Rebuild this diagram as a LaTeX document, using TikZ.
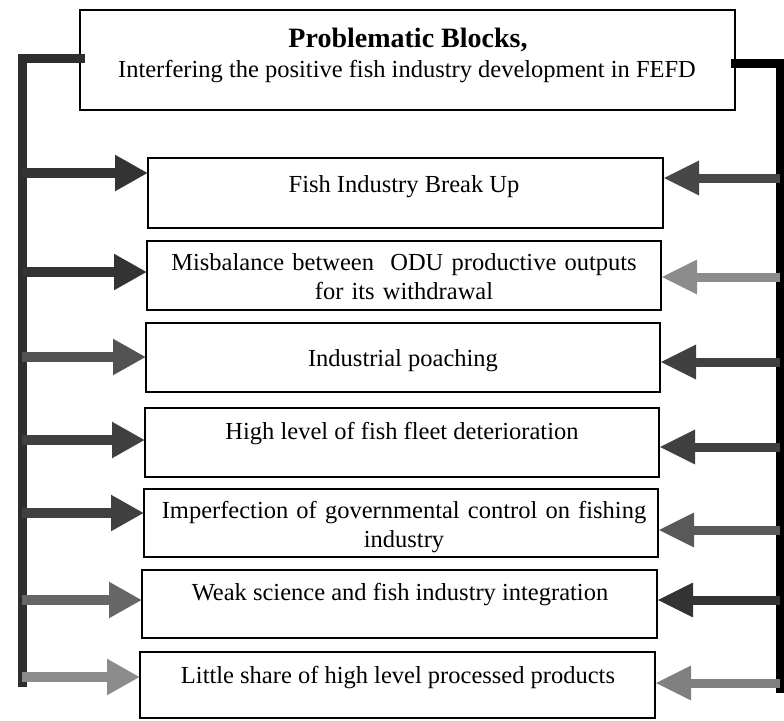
\documentclass[tikz,border=0pt]{standalone}
\usepackage{fontspec}
\setmainfont{Liberation Serif}
\usetikzlibrary{arrows.meta}
\begin{document}
\begin{tikzpicture}[x=1pt,y=-1pt,
  box/.style={draw=black, line width=1.2pt, fill=white, inner sep=0pt, outer sep=0pt, anchor=north west},
  lbl/.style={font=\fontsize{24.5}{29.5}\selectfont, anchor=base, align=center, inner sep=0pt},
  bus/.style={line width=9pt, line join=miter, line cap=rect},
  larr/.style={line width=10pt, -{Triangle[length=33pt,width=34pt]}},
  rarr/.style={line width=9pt, -{Triangle[length=36pt,width=32pt]}},
]
\useasboundingbox[fill=white] (0,0) rectangle (784,720);

% top box
\node[box, minimum width=655pt, minimum height=100pt] (top) at (80,10) {};
\node[font=\bfseries\fontsize{28}{34}\selectfont, anchor=base, inner sep=0pt] (title) at (408,47) {Problematic Blocks,};
\node[lbl] (subtitle) at (407,77) {Interfering the positive fish industry development in FEFD};

% boxes
\node[box, minimum width=515pt, minimum height=70pt] (b1) at (148,158) {};
\node[box, minimum width=514pt, minimum height=69pt] (b2) at (147,241) {};
\node[box, minimum width=514pt, minimum height=69pt] (b3) at (146,323) {};
\node[box, minimum width=514pt, minimum height=69pt] (b4) at (145,408) {};
\node[box, minimum width=514pt, minimum height=68pt] (b5) at (144,489) {};
\node[box, minimum width=515pt, minimum height=68pt] (b6) at (142,570) {};
\node[box, minimum width=515pt, minimum height=66pt] (b7) at (140,652) {};

% labels
\node[lbl] (t1) at (404,192) {Fish Industry Break Up};
\node[lbl, text width=510pt] (t2) at (404,270) {Misbalance between\ \ ODU productive outputs\\for its withdrawal};
\node[lbl] (t3) at (403,366) {Industrial poaching};
\node[lbl] (t4) at (402,439) {High level of fish fleet deterioration};
\node[lbl, text width=510pt] (t5) at (404,518) {Imperfection of governmental control on fishing\\industry};
\node[lbl] (t6) at (400,600) {Weak science and fish industry integration};
\node[lbl] (t7) at (398,683) {Little share of high level processed products};

% bus coordinates
\coordinate (TL) at (22,58);
\coordinate (LB) at (22,682);
\coordinate (TR) at (780,63);
\coordinate (RB) at (780,688);
\coordinate (L1) at (22,173);
\coordinate (L2) at (22,272);
\coordinate (L3) at (22,357);
\coordinate (L4) at (22,440);
\coordinate (L5) at (22,513);
\coordinate (L6) at (22,600);
\coordinate (L7) at (22,677);
\coordinate (R1) at (780,178);
\coordinate (R2) at (780,277);
\coordinate (R3) at (780,362);
\coordinate (R4) at (780,447);
\coordinate (R5) at (780,530);
\coordinate (R6) at (780,600);
\coordinate (R7) at (780,683);

% buses
\draw[bus, draw=black!82] (top.west |- TL) -- (TL) -- (LB);
\draw[bus, draw=black] (top.east |- TR) -- (TR) -- (RB);

% left arrows
\draw[larr, draw=black!80, fill=black!80] (L1) -- (L1 -| b1.west);
\draw[larr, draw=black!80, fill=black!80] (L2) -- (L2 -| b2.west);
\draw[larr, draw=black!68, fill=black!68] (L3) -- (L3 -| b3.west);
\draw[larr, draw=black!75, fill=black!75] (L4) -- (L4 -| b4.west);
\draw[larr, draw=black!75, fill=black!75] (L5) -- (L5 -| b5.west);
\draw[larr, draw=black!60, fill=black!60] (L6) -- (L6 -| b6.west);
\draw[larr, draw=black!45, fill=black!45] (L7) -- (L7 -| b7.west);

% right arrows
\draw[rarr, draw=black!72, fill=black!72] (R1) -- (R1 -| b1.east);
\draw[rarr, draw=black!45, fill=black!45] (R2) -- (R2 -| b2.east);
\draw[rarr, draw=black!75, fill=black!75] (R3) -- (R3 -| b3.east);
\draw[rarr, draw=black!75, fill=black!75] (R4) -- (R4 -| b4.east);
\draw[rarr, draw=black!65, fill=black!65] (R5) -- (R5 -| b5.east);
\draw[rarr, draw=black!80, fill=black!80] (R6) -- (R6 -| b6.east);
\draw[rarr, draw=black!50, fill=black!50] (R7) -- (R7 -| b7.east);
\end{tikzpicture}
\end{document}
